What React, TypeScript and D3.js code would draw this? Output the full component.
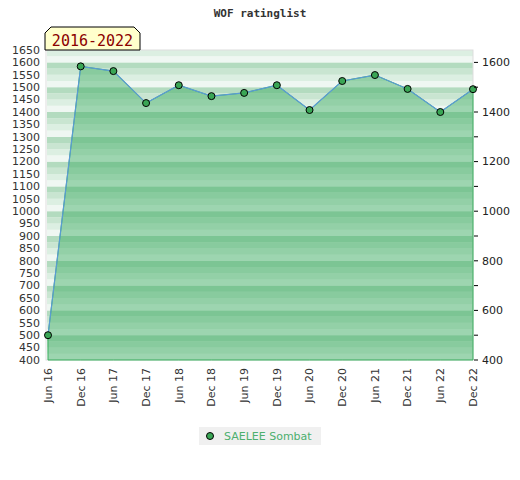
import * as d3 from "d3";

const DATES = ["Jun 16", "Dec 16", "Jun 17", "Dec 17", "Jun 18", "Dec 18", "Jun 19", "Dec 19", "Jun 20", "Dec 20", "Jun 21", "Dec 21", "Jun 22", "Dec 22"];
const RATINGS = [500, 1584, 1565, 1436, 1508, 1464, 1477, 1508, 1408, 1525, 1549, 1493, 1400, 1492];
const LEFT_TICKS = d3.range(400, 1651, 50);
const RIGHT_TICKS = d3.range(400, 1601, 100);
const STRIPE_COLORS = ["#b3dbbf", "#c9e5d1", "#dcefe2", "#eff7f2"];

const W = 520;
const H = 480;
const margin = { top: 50, right: 47, bottom: 120, left: 47 };

export default function App() {
  const x = d3
    .scalePoint<string>()
    .domain(DATES)
    .range([margin.left + 1, W - margin.right]);
  const y = d3.scaleLinear().domain([400, 1650]).range([H - margin.bottom, margin.top]);

  const pts = DATES.map((d, i) => ({ d, v: RATINGS[i] }));

  const area = d3
    .area<(typeof pts)[0]>()
    .x((p) => x(p.d)!)
    .y0(y(400))
    .y1((p) => y(p.v));
  const line = d3
    .line<(typeof pts)[0]>()
    .x((p) => x(p.d)!)
    .y((p) => y(p.v));

  // background stripes, 25 units each, dark->light inside every 100
  const stripes = d3.range(400, 1700, 25).map((v) => {
    const top = Math.min(v + 25, 1650);
    const idx = 3 - Math.floor(((v % 100) + 100) % 100 / 25);
    return { v, top, color: STRIPE_COLORS[idx] };
  }).filter((s) => s.v < 1650);

  const x0 = margin.left;
  const x1 = W - margin.right;

  return (
    <svg width={W} height={H} style={{ display: "block", margin: -8 }}>
      <rect width={W} height={H} fill="#fff" />
      <text x={W / 2} y={17} textAnchor="middle" fontFamily="DejaVu Sans Mono" fontWeight="bold" fontSize={11} fill="#333">
        WOF ratinglist
      </text>

      {stripes.map((s) => (
        <rect key={s.v} x={x0} width={x1 - x0} y={y(s.top)} height={y(s.v) - y(s.top)} fill={s.color} />
      ))}
      <rect x={x0 - 1} y={y(1650)} width={x1 - x0 + 1} height={y(400) - y(1650)} fill="none" stroke="#dddddd" />

      <path d={area(pts)!} fill="rgb(57,170,95)" fillOpacity={0.45} stroke="#3cb060" strokeWidth={1} />
      <path d={line(pts)!} fill="none" stroke="#5b9bd5" strokeWidth={1.2} />
      {pts.map((p) => (
        <circle key={p.d} cx={x(p.d)} cy={y(p.v)} r={3.5} fill="#3aa655" stroke="#000" strokeWidth={1} />
      ))}

      {LEFT_TICKS.map((t) => (
        <text key={t} x={40} y={y(t)} dy="0.35em" textAnchor="end" fontFamily="DejaVu Sans" fontSize={11} fill="#333">
          {t}
        </text>
      ))}

      {RIGHT_TICKS.map((t) => (
        <g key={t}>
          <line x1={x1 + 1} x2={x1 + 5} y1={y(t)} y2={y(t)} stroke="#000" />
          {t % 200 === 0 && (
            <text x={x1 + 9} y={y(t)} dy="0.35em" fontFamily="DejaVu Sans" fontSize={11} fill="#222">
              {t}
            </text>
          )}
        </g>
      ))}

      {DATES.map((d) => (
        <text
          key={d}
          transform={`translate(${x(d)},${y(400) + 8}) rotate(-90)`}
          dy="0.35em"
          textAnchor="end"
          fontFamily="DejaVu Sans"
          fontSize={11}
          fill="#333"
        >
          {d}
        </text>
      ))}

      <path d="M45,50 L45,33 L51,27 L134,27 L140,33 L140,50 Z" fill="#ffffcc" stroke="#000" strokeWidth={1} />
      <text x={92.5} y={46} textAnchor="middle" fontFamily="DejaVu Sans Mono" fontSize={15} fill="#8b0000">
        2016-2022
      </text>

      <rect x={199} y={427} width={122} height={18} fill="#f0f0f0" />
      <circle cx={210} cy={436} r={3.5} fill="#3aa655" stroke="#000" strokeWidth={1} />
      <text x={224} y={436} dy="0.35em" fontFamily="DejaVu Sans" fontSize={11} fill="#4caf6e">
        SAELEE Sombat
      </text>
    </svg>
  );
}
